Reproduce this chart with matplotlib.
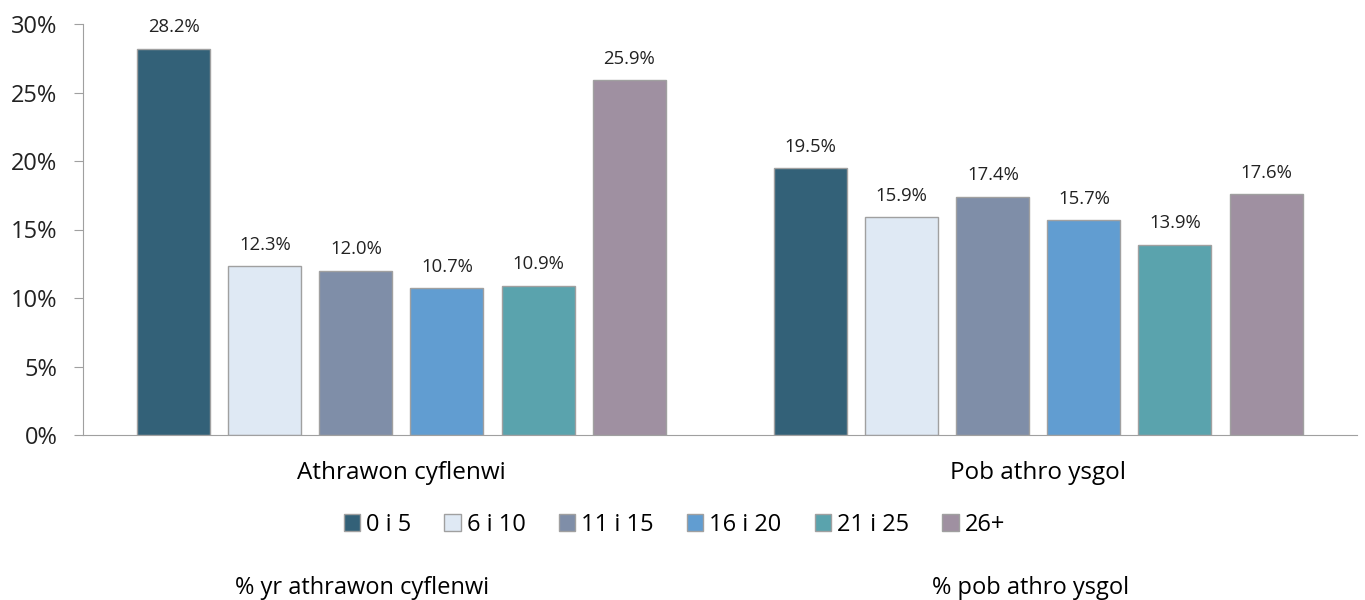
import numpy as np
import matplotlib.pyplot as plt

# ---- data ----
categories = ['Athrawon cyflenwi', 'Pob athro ysgol']
series = ['0 i 5', '6 i 10', '11 i 15', '16 i 20', '21 i 25', '26+']
values = [
    [28.2, 19.5],
    [12.3, 15.9],
    [12.0, 17.4],
    [10.7, 15.7],
    [10.9, 13.9],
    [25.9, 17.6],
]
colors = ['#336178', '#dfe9f4', '#7f8ea8', '#619dd1', '#5aa3ad', '#9f90a1']
footnotes = ['% yr athrawon cyflenwi', '% pob athro ysgol']

plt.rcParams['font.family'] = ['Open Sans', 'DejaVu Sans']

fig = plt.figure(figsize=(13.65, 6), dpi=100)
ax = fig.add_axes([0.0608, 0.275, 0.9332, 0.685])

x = np.arange(len(categories))
step = 0.143
width = 0.1146
for i, (name, vals) in enumerate(zip(series, values)):
    pos = x + (i - 2.5) * step
    bars = ax.bar(pos, vals, width, color=colors[i], edgecolor='#a0a0a0',
                  linewidth=1, label=name)
    for b, v in zip(bars, vals):
        ax.text(b.get_x() + b.get_width() / 2, v + 0.9, f'{v:.1f}%',
                ha='center', va='bottom', fontsize=13.3, color='#222222')

ax.set_xlim(-0.5, 1.5)
ax.set_ylim(0, 30)
ax.set_yticks(np.arange(0, 31, 5))
ax.set_yticklabels([f'{t}%' for t in range(0, 31, 5)], fontsize=17)
ax.set_xticks(x)
ax.set_xticklabels(categories, fontsize=17.5)
ax.tick_params(axis='x', length=0, pad=19)
ax.tick_params(axis='y', length=6.5, color='#a0a0a0', pad=12, labelcolor='#222222')
for s in ['top', 'right']:
    ax.spines[s].set_visible(False)
for s in ['left', 'bottom']:
    ax.spines[s].set_color('#a0a0a0')

fig.legend(loc='center', bbox_to_anchor=(0.494, 0.125), ncol=6, frameon=False,
           fontsize=17, handlelength=0.7, handleheight=0.7, handletextpad=0.25,
           columnspacing=1.4)

fig.text(0.265, 0.02, footnotes[0], ha='center', va='center', fontsize=17)
fig.text(0.7553, 0.02, footnotes[1], ha='center', va='center', fontsize=17)

fig.savefig('out.png', dpi=100)
